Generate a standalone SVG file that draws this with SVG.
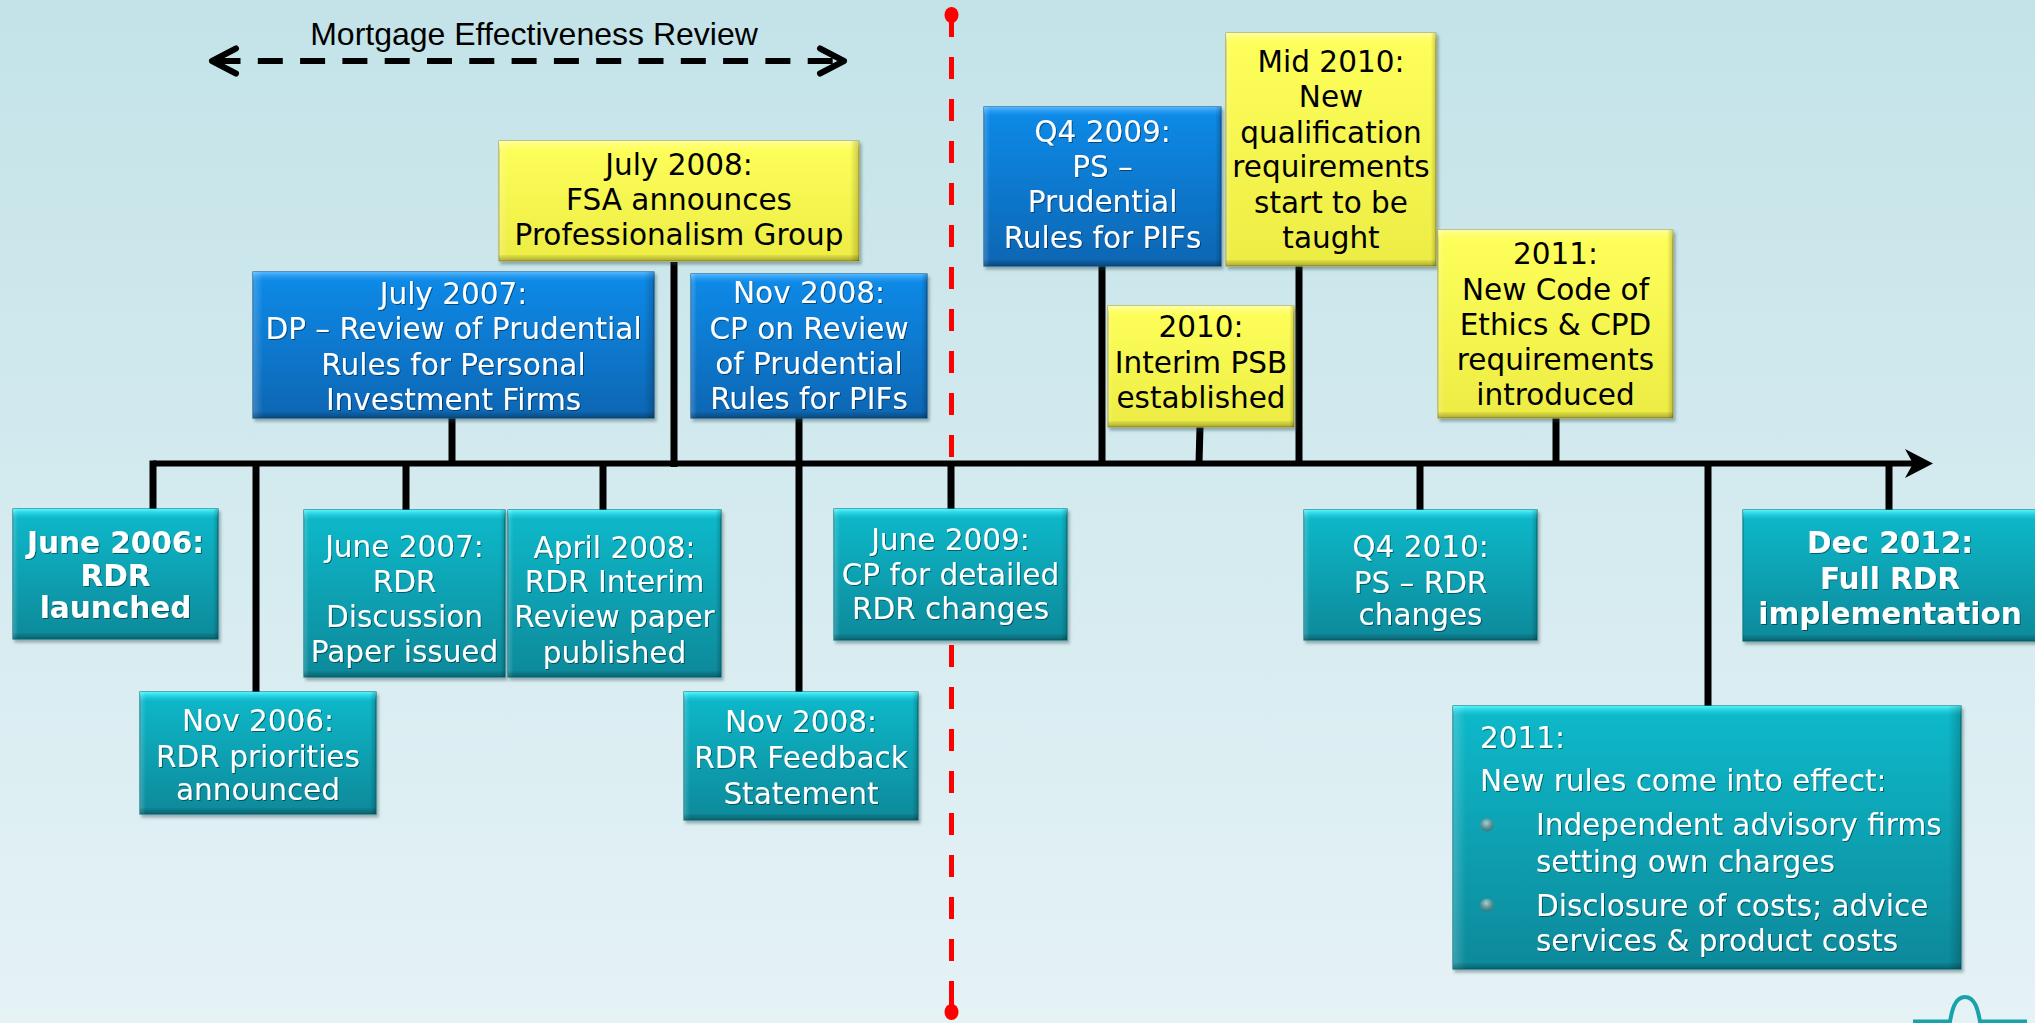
<svg xmlns="http://www.w3.org/2000/svg" width="2035" height="1023" viewBox="0 0 2035 1023">
  <defs>
    <linearGradient id="bg" x1="0" y1="0" x2="0" y2="1">
      <stop offset="0" stop-color="#c3e3e8"/>
      <stop offset="1" stop-color="#e5f2f6"/>
    </linearGradient>
    <!-- box bodies -->
    <linearGradient id="gTeal" x1="0" y1="0" x2="0" y2="1">
      <stop offset="0" stop-color="#0fbacb"/>
      <stop offset="1" stop-color="#08899a"/>
    </linearGradient>
    <linearGradient id="gBlue" x1="0" y1="0" x2="0" y2="1">
      <stop offset="0" stop-color="#0b8be9"/>
      <stop offset="1" stop-color="#0866b3"/>
    </linearGradient>
    <linearGradient id="gYel" x1="0" y1="0" x2="0" y2="1">
      <stop offset="0" stop-color="#ffff5c"/>
      <stop offset="1" stop-color="#ecec44"/>
    </linearGradient>
    <!-- bevel highlights -->
    <linearGradient id="hiTeal" x1="0" y1="0" x2="0" y2="1">
      <stop offset="0" stop-color="#52f7ff"/>
      <stop offset="1" stop-color="#1ac6d8" stop-opacity="0"/>
    </linearGradient>
    <linearGradient id="hiBlue" x1="0" y1="0" x2="0" y2="1">
      <stop offset="0" stop-color="#55b8ff"/>
      <stop offset="1" stop-color="#1892ee" stop-opacity="0"/>
    </linearGradient>
    <linearGradient id="hiYel" x1="0" y1="0" x2="0" y2="1">
      <stop offset="0" stop-color="#ffffa8"/>
      <stop offset="1" stop-color="#ffff60" stop-opacity="0"/>
    </linearGradient>
    <linearGradient id="lo" x1="0" y1="0" x2="0" y2="1">
      <stop offset="0" stop-color="#000" stop-opacity="0.05"/>
      <stop offset="1" stop-color="#000" stop-opacity="0.28"/>
    </linearGradient>
    <linearGradient id="side" x1="0" y1="0" x2="1" y2="0">
      <stop offset="0" stop-color="#fff" stop-opacity="0.2"/>
      <stop offset="0.025" stop-color="#fff" stop-opacity="0"/>
      <stop offset="0.975" stop-color="#000" stop-opacity="0"/>
      <stop offset="1" stop-color="#000" stop-opacity="0.2"/>
    </linearGradient>
    <radialGradient id="bullet" cx="0.45" cy="0.35" r="0.7">
      <stop offset="0" stop-color="#a9cfd2"/>
      <stop offset="0.5" stop-color="#5d979c"/>
      <stop offset="1" stop-color="#33707a"/>
    </radialGradient>
    <filter id="shadow" x="-5%" y="-5%" width="115%" height="120%">
      <feDropShadow dx="2" dy="3" stdDeviation="1.5" flood-color="#2a4a50" flood-opacity="0.4"/>
    </filter>
    <filter id="ts" x="-5%" y="-20%" width="110%" height="140%">
      <feDropShadow dx="1" dy="1" stdDeviation="0.6" flood-color="#000" flood-opacity="0.45"/>
    </filter>
    <style>
      .ttl { font-family: "Liberation Sans", Arial, sans-serif; font-size: 32px; fill: #000; text-anchor: middle; }
      .t { font-family: "DejaVu Sans", Verdana, sans-serif; font-size: 29.5px; text-anchor: middle; }
      .t.l { text-anchor: start; }
      .b { font-weight: bold; }
      .teal .t, .blue .t { fill: #fff; filter: url(#ts); }
      .yel .t { fill: #000; }
      .bx { filter: url(#shadow); stroke-width: 1.2; }
      .teal .bx { fill: url(#gTeal); stroke: #0b7c88; }
      .blue .bx { fill: url(#gBlue); stroke: #145c9a; }
      .yel .bx { fill: url(#gYel); stroke: #b4ae42; }
      .teal .hi { fill: url(#hiTeal); }
      .blue .hi { fill: url(#hiBlue); }
      .yel .hi { fill: url(#hiYel); }
      .lo { fill: url(#lo); }
      .sd { fill: url(#side); }
      .tick { stroke: #000; stroke-width: 7; fill: none; }
      .axis { stroke: #000; stroke-width: 6; fill: none; }
      .blt { fill: url(#bullet); }
    </style>
  </defs>

  <rect x="0" y="0" width="2035" height="1023" fill="url(#bg)"/>

  <!-- review period bracket -->
  <g id="mortgage-review">
    <text class="ttl" x="534" y="45">Mortgage Effectiveness Review</text>
    <line x1="215.5" y1="61" x2="836" y2="61" stroke="#000" stroke-width="6" stroke-dasharray="25 17.3"/>
    <polyline points="236,48.5 212,61 236,73.5" fill="none" stroke="#000" stroke-width="6" stroke-linecap="round" stroke-linejoin="round"/>
    <polyline points="820,48.5 844,61 820,73.5" fill="none" stroke="#000" stroke-width="6" stroke-linecap="round" stroke-linejoin="round"/>
  </g>

  <!-- connectors: red marker, axis and ticks -->
  <g id="connectors">
    <!-- red divider (drawn first so the axis and ticks sit on top) -->
    <line x1="951.5" y1="15" x2="951.5" y2="1012" stroke="#ff0000" stroke-width="5" stroke-dasharray="22 20"/>
    <line x1="951.5" y1="1000" x2="951.5" y2="1012" stroke="#ff0000" stroke-width="5"/>
    <ellipse cx="951.5" cy="15" rx="7" ry="8" fill="#ff0000"/>
    <ellipse cx="951.5" cy="1012" rx="7" ry="8" fill="#ff0000"/>
    <path class="axis" d="M153,463.5 H1914"/>
    <path d="M1933,463.5 L1905,449 L1913,463.5 L1905,478 Z" fill="#000"/>
    <!-- ticks above the axis -->
    <line class="tick" x1="452" y1="418" x2="452" y2="463"/>
    <line class="tick" x1="674" y1="262" x2="674" y2="467"/>
    <line class="tick" x1="799" y1="418" x2="799" y2="692"/>
    <line class="tick" x1="1102" y1="266" x2="1102" y2="463"/>
    <line class="tick" x1="1200" y1="427" x2="1199" y2="463"/>
    <line class="tick" x1="1299" y1="266" x2="1299" y2="463"/>
    <line class="tick" x1="1556" y1="418" x2="1556" y2="463"/>
    <!-- ticks below the axis -->
    <line class="tick" x1="153" y1="460.5" x2="153" y2="509"/>
    <line class="tick" x1="256" y1="463" x2="256" y2="692"/>
    <line class="tick" x1="406" y1="463" x2="406" y2="510"/>
    <line class="tick" x1="603" y1="463" x2="603" y2="510"/>
    <line class="tick" x1="951" y1="463" x2="951" y2="509"/>
    <line class="tick" x1="1420" y1="463" x2="1420" y2="510"/>
    <line class="tick" x1="1708" y1="463" x2="1708" y2="706"/>
    <line class="tick" x1="1889" y1="463" x2="1889" y2="510"/>
  </g>

  <!-- blue nodes -->
  <g id="n-jul2007" class="blue">
    <rect class="bx" x="253" y="272" width="401" height="146"/>
    <rect class="hi" x="253" y="272" width="401" height="10"/>
    <rect class="sd" x="253" y="272" width="401" height="146"/>
    <rect class="lo" x="253" y="412" width="401" height="6"/>
    <text class="t" x="453.5" y="304">July 2007:</text>
    <text class="t" x="453.5" y="339">DP – Review of Prudential</text>
    <text class="t" x="453.5" y="375">Rules for Personal</text>
    <text class="t" x="453.5" y="410">Investment Firms</text>
  </g>
  <g id="n-nov2008-cp" class="blue">
    <rect class="bx" x="691" y="274" width="236" height="144"/>
    <rect class="hi" x="691" y="274" width="236" height="10"/>
    <rect class="sd" x="691" y="274" width="236" height="144"/>
    <rect class="lo" x="691" y="412" width="236" height="6"/>
    <text class="t" x="809" y="303">Nov 2008:</text>
    <text class="t" x="809" y="339">CP on Review</text>
    <text class="t" x="809" y="374">of Prudential</text>
    <text class="t" x="809" y="409">Rules for PIFs</text>
  </g>
  <g id="n-q42009" class="blue">
    <rect class="bx" x="984" y="107" width="237" height="159"/>
    <rect class="hi" x="984" y="107" width="237" height="10"/>
    <rect class="sd" x="984" y="107" width="237" height="159"/>
    <rect class="lo" x="984" y="260" width="237" height="6"/>
    <text class="t" x="1102.5" y="142">Q4 2009:</text>
    <text class="t" x="1102.5" y="177">PS –</text>
    <text class="t" x="1102.5" y="212">Prudential</text>
    <text class="t" x="1102.5" y="248">Rules for PIFs</text>
  </g>

  <!-- yellow nodes -->
  <g id="n-jul2008" class="yel">
    <rect class="bx" x="499" y="141" width="360" height="120"/>
    <rect class="hi" x="499" y="141" width="360" height="10"/>
    <rect class="sd" x="499" y="141" width="360" height="120"/>
    <rect class="lo" x="499" y="255" width="360" height="6"/>
    <text class="t" x="679" y="175">July 2008:</text>
    <text class="t" x="679" y="210">FSA announces</text>
    <text class="t" x="679" y="245">Professionalism Group</text>
  </g>
  <g id="n-mid2010" class="yel">
    <rect class="bx" x="1226" y="33" width="210" height="233"/>
    <rect class="hi" x="1226" y="33" width="210" height="10"/>
    <rect class="sd" x="1226" y="33" width="210" height="233"/>
    <rect class="lo" x="1226" y="260" width="210" height="6"/>
    <text class="t" x="1331" y="72">Mid 2010:</text>
    <text class="t" x="1331" y="107">New</text>
    <text class="t" x="1331" y="143">qualification</text>
    <text class="t" x="1331" y="177">requirements</text>
    <text class="t" x="1331" y="213">start to be</text>
    <text class="t" x="1331" y="248">taught</text>
  </g>
  <g id="n-2010" class="yel">
    <rect class="bx" x="1108" y="306" width="186" height="121"/>
    <rect class="hi" x="1108" y="306" width="186" height="10"/>
    <rect class="sd" x="1108" y="306" width="186" height="121"/>
    <rect class="lo" x="1108" y="421" width="186" height="6"/>
    <text class="t" x="1201" y="337">2010:</text>
    <text class="t" x="1201" y="373">Interim PSB</text>
    <text class="t" x="1201" y="408">established</text>
  </g>
  <g id="n-2011-code" class="yel">
    <rect class="bx" x="1438" y="230" width="235" height="188"/>
    <rect class="hi" x="1438" y="230" width="235" height="10"/>
    <rect class="sd" x="1438" y="230" width="235" height="188"/>
    <rect class="lo" x="1438" y="412" width="235" height="6"/>
    <text class="t" x="1555.5" y="264">2011:</text>
    <text class="t" x="1555.5" y="300">New Code of</text>
    <text class="t" x="1555.5" y="335">Ethics &amp; CPD</text>
    <text class="t" x="1555.5" y="370">requirements</text>
    <text class="t" x="1555.5" y="405">introduced</text>
  </g>

  <!-- teal nodes -->
  <g id="n-jun2006" class="teal">
    <rect class="bx" x="13" y="509" width="205" height="130"/>
    <rect class="hi" x="13" y="509" width="205" height="10"/>
    <rect class="sd" x="13" y="509" width="205" height="130"/>
    <rect class="lo" x="13" y="633" width="205" height="6"/>
    <text class="t b" x="115.5" y="553">June 2006:</text>
    <text class="t b" x="115.5" y="586">RDR</text>
    <text class="t b" x="115.5" y="618">launched</text>
  </g>
  <g id="n-nov2006" class="teal">
    <rect class="bx" x="140" y="692" width="236" height="122"/>
    <rect class="hi" x="140" y="692" width="236" height="10"/>
    <rect class="sd" x="140" y="692" width="236" height="122"/>
    <rect class="lo" x="140" y="808" width="236" height="6"/>
    <text class="t" x="258" y="731">Nov 2006:</text>
    <text class="t" x="258" y="767">RDR priorities</text>
    <text class="t" x="258" y="800">announced</text>
  </g>
  <g id="n-jun2007" class="teal">
    <rect class="bx" x="304" y="510" width="201" height="167"/>
    <rect class="hi" x="304" y="510" width="201" height="10"/>
    <rect class="sd" x="304" y="510" width="201" height="167"/>
    <rect class="lo" x="304" y="671" width="201" height="6"/>
    <text class="t" x="404.5" y="557">June 2007:</text>
    <text class="t" x="404.5" y="592">RDR</text>
    <text class="t" x="404.5" y="627">Discussion</text>
    <text class="t" x="404.5" y="662">Paper issued</text>
  </g>
  <g id="n-apr2008" class="teal">
    <rect class="bx" x="508" y="510" width="213" height="167"/>
    <rect class="hi" x="508" y="510" width="213" height="10"/>
    <rect class="sd" x="508" y="510" width="213" height="167"/>
    <rect class="lo" x="508" y="671" width="213" height="6"/>
    <text class="t" x="614.5" y="558">April 2008:</text>
    <text class="t" x="614.5" y="592">RDR Interim</text>
    <text class="t" x="614.5" y="627">Review paper</text>
    <text class="t" x="614.5" y="663">published</text>
  </g>
  <g id="n-nov2008-fs" class="teal">
    <rect class="bx" x="684" y="692" width="234" height="128"/>
    <rect class="hi" x="684" y="692" width="234" height="10"/>
    <rect class="sd" x="684" y="692" width="234" height="128"/>
    <rect class="lo" x="684" y="814" width="234" height="6"/>
    <text class="t" x="801" y="732">Nov 2008:</text>
    <text class="t" x="801" y="768">RDR Feedback</text>
    <text class="t" x="801" y="804">Statement</text>
  </g>
  <g id="n-jun2009" class="teal">
    <rect class="bx" x="834" y="509" width="233" height="131"/>
    <rect class="hi" x="834" y="509" width="233" height="10"/>
    <rect class="sd" x="834" y="509" width="233" height="131"/>
    <rect class="lo" x="834" y="634" width="233" height="6"/>
    <text class="t" x="950.5" y="550">June 2009:</text>
    <text class="t" x="950.5" y="585">CP for detailed</text>
    <text class="t" x="950.5" y="619">RDR changes</text>
  </g>
  <g id="n-q42010" class="teal">
    <rect class="bx" x="1304" y="510" width="233" height="130"/>
    <rect class="hi" x="1304" y="510" width="233" height="10"/>
    <rect class="sd" x="1304" y="510" width="233" height="130"/>
    <rect class="lo" x="1304" y="634" width="233" height="6"/>
    <text class="t" x="1420.5" y="557">Q4 2010:</text>
    <text class="t" x="1420.5" y="593">PS – RDR</text>
    <text class="t" x="1420.5" y="625">changes</text>
  </g>
  <g id="n-dec2012" class="teal">
    <rect class="bx" x="1743" y="510" width="300" height="131"/>
    <rect class="hi" x="1743" y="510" width="300" height="10"/>
    <rect class="lo" x="1743" y="635" width="300" height="6"/>
    <text class="t b" x="1890" y="553">Dec 2012:</text>
    <text class="t b" x="1890" y="589">Full RDR</text>
    <text class="t b" x="1890" y="624">implementation</text>
  </g>
  <g id="n-2011-rules" class="teal">
    <rect class="bx" x="1453" y="706" width="508" height="263"/>
    <rect class="hi" x="1453" y="706" width="508" height="10"/>
    <rect class="sd" x="1453" y="706" width="508" height="263"/>
    <rect class="lo" x="1453" y="963" width="508" height="6"/>
    <text class="t l" x="1480" y="748">2011:</text>
    <text class="t l" x="1480" y="791">New rules come into effect:</text>
    <ellipse class="blt" cx="1487" cy="825" rx="7" ry="6.5"/>
    <text class="t l" x="1536" y="835">Independent advisory firms</text>
    <text class="t l" x="1536" y="872">setting own charges</text>
    <ellipse class="blt" cx="1487" cy="905" rx="7" ry="6.5"/>
    <text class="t l" x="1536" y="916">Disclosure of costs; advice</text>
    <text class="t l" x="1536" y="951">services &amp; product costs</text>
  </g>

  <!-- corner mark -->
  <path d="M1913,1021.5 H1950 C1952,1010 1955,997 1965,997 C1975,997 1978,1010 1980,1021.5 H2027" fill="none" stroke="#1aa2ac" stroke-width="4"/>
</svg>
